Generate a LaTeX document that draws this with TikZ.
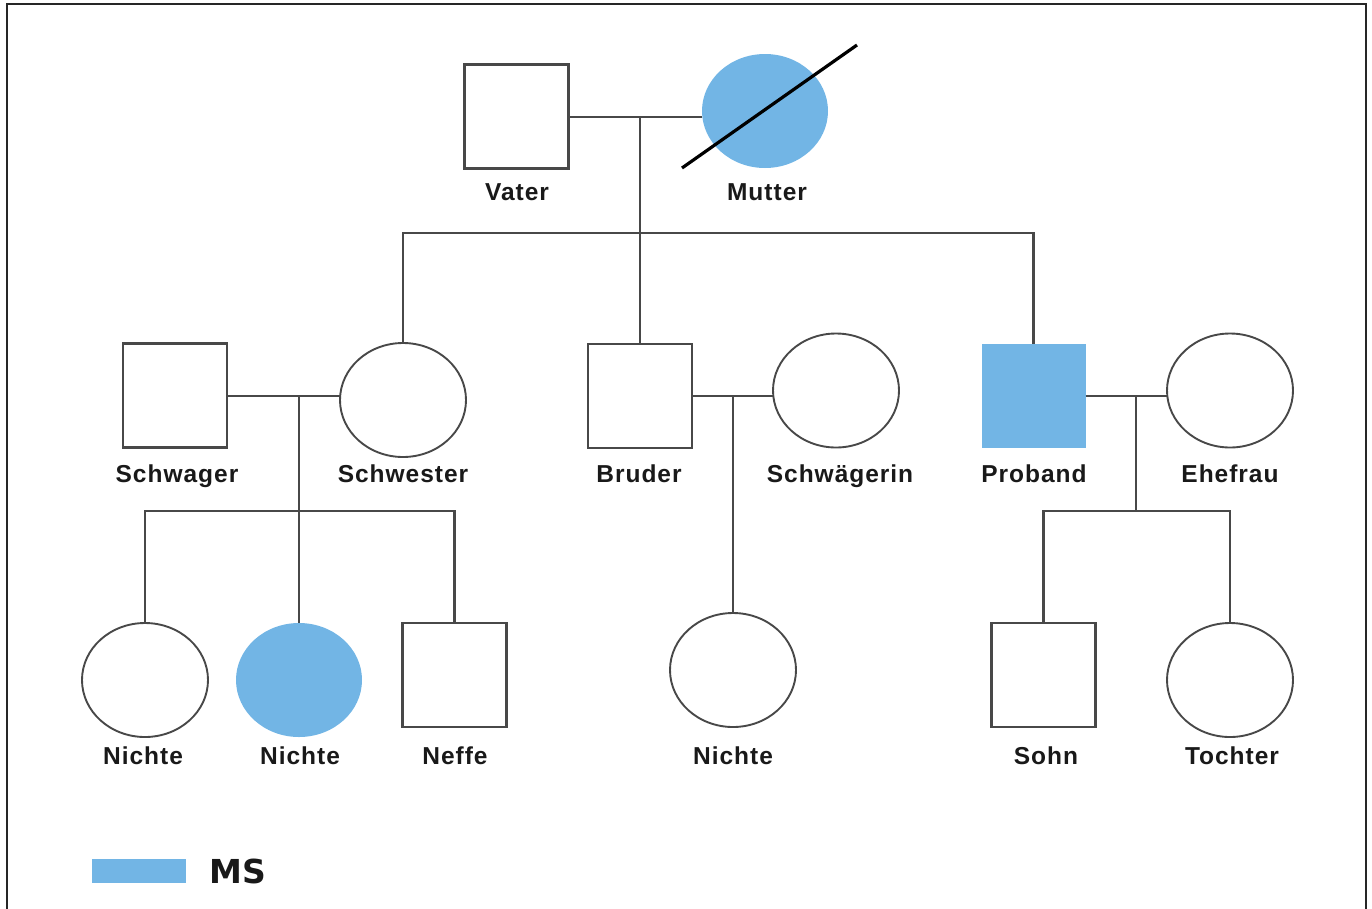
\documentclass[tikz,border=0pt]{standalone}
\usepackage{fontspec}
\setmainfont{Liberation Sans}
\newfontfamily\lblfont[LetterSpace=4]{Liberation Sans}
\newfontfamily\msfont{DejaVu Sans}
\usetikzlibrary{shapes.geometric}
\definecolor{msblue}{RGB}{114,181,229}
\definecolor{linegray}{RGB}{72,72,72}
\begin{document}
\begin{tikzpicture}[x=1pt,y=-1pt,
  male/.style={rectangle, draw=linegray, line width=2.4pt, minimum width=104pt, minimum height=104pt, inner sep=0pt, outer sep=0pt},
  female/.style={ellipse, draw=linegray, line width=1.9pt, minimum width=126pt, minimum height=114pt, inner sep=0pt, outer sep=0pt},
  affected/.style={fill=msblue, draw=none},
  lbl/.style={font=\lblfont\fontsize{24.5}{28}\selectfont\bfseries, text=black!90, inner sep=0pt, anchor=base},
  link/.style={draw=linegray, line width=2.4pt},
  frameline/.style={draw=black!85, line width=2.5pt}
]
\useasboundingbox (0,0) rectangle (1372,908);
\draw[frameline] (7,915) -- (7,4) -- (1366,4) -- (1366,915);

% generation I
\node[male] (V) at (516.5,116.5) {};
\node[female, affected] (M) at (765,111) {};
\coordinate (slashA) at (682,168);
\coordinate (slashB) at (857,45);
\draw[line width=3.2pt, black] (slashA) -- (slashB);
\node[lbl] (lV) at (517,200) {Vater};
\node[lbl] (lM) at (767,200) {Mutter};

% generation II
\node[male] (Sg) at (175,395.5) {};
\node[female] (Sw) at (403,400) {};
\node[male] (B) at (640,396) {};
\node[female] (Sa) at (836,390.5) {};
\node[male, affected] (P) at (1033.5,395.5) {};
\node[female] (E) at (1230,390.5) {};
\node[lbl] (lSg) at (177,482) {Schwager};
\node[lbl] (lSw) at (403,482) {Schwester};
\node[lbl] (lB) at (639,482) {Bruder};
\node[lbl] (lSa) at (840,482) {Schwägerin};
\node[lbl] (lP) at (1034,482) {Proband};
\node[lbl] (lE) at (1230,482) {Ehefrau};

% generation III
\node[female] (N1) at (145,680) {};
\node[female, affected] (N2) at (299,680) {};
\node[male] (Ne) at (454.5,675) {};
\node[female] (N3) at (733,670) {};
\node[male] (So) at (1043.5,675) {};
\node[female] (T) at (1230,680) {};
\node[lbl] (lN1) at (143,764) {Nichte};
\node[lbl] (lN2) at (300,764) {Nichte};
\node[lbl] (lNe) at (455,764) {Neffe};
\node[lbl] (lN3) at (733,764) {Nichte};
\node[lbl] (lSo) at (1046,764) {Sohn};
\node[lbl] (lT) at (1232,764) {Tochter};

% junction coordinates
\coordinate (J1) at (640,117);
\coordinate (S1L) at (403,233);
\coordinate (S1M) at (640,233);
\coordinate (S1R) at (1033.5,233);
\coordinate (J2) at (299,396);
\coordinate (C2) at (299,511);
\coordinate (J3) at (733,396);
\coordinate (J4) at (1136,396);
\coordinate (C4) at (1136,511);

% couples
\draw[link] (V.east |- J1) -- (J1) -- (M.west |- J1);
\draw[link] (Sg.east |- J2) -- (J2) -- (Sw.west |- J2);
\draw[link] (B.east |- J3) -- (J3) -- (Sa.west |- J3);
\draw[link] (P.east |- J4) -- (J4) -- (E.west |- J4);

% descent lines
\draw[link] (J1) -- (S1M);
\draw[link] (Sw.north) -- (S1L) -- (S1R) -- (P.north);
\draw[link] (S1M) -- (B.north);

\draw[link] (J2) -- (C2);
\draw[link] (N1.north) -- (N1.north |- C2) -- (Ne.north |- C2) -- (Ne.north);
\draw[link] (C2) -- (N2.north);

\draw[link] (J3) -- (N3.north);

\draw[link] (J4) -- (C4);
\draw[link] (So.north) -- (So.north |- C4) -- (T.north |- C4) -- (T.north);

% legend
\node[fill=msblue, minimum width=94pt, minimum height=24pt, inner sep=0pt] (key) at (139,871) {};
\node[font=\msfont\fontsize{33}{36}\selectfont\bfseries, text=black!90, inner sep=0pt, anchor=base west] (keytxt) at (209,883) {MS};
\end{tikzpicture}
\end{document}
